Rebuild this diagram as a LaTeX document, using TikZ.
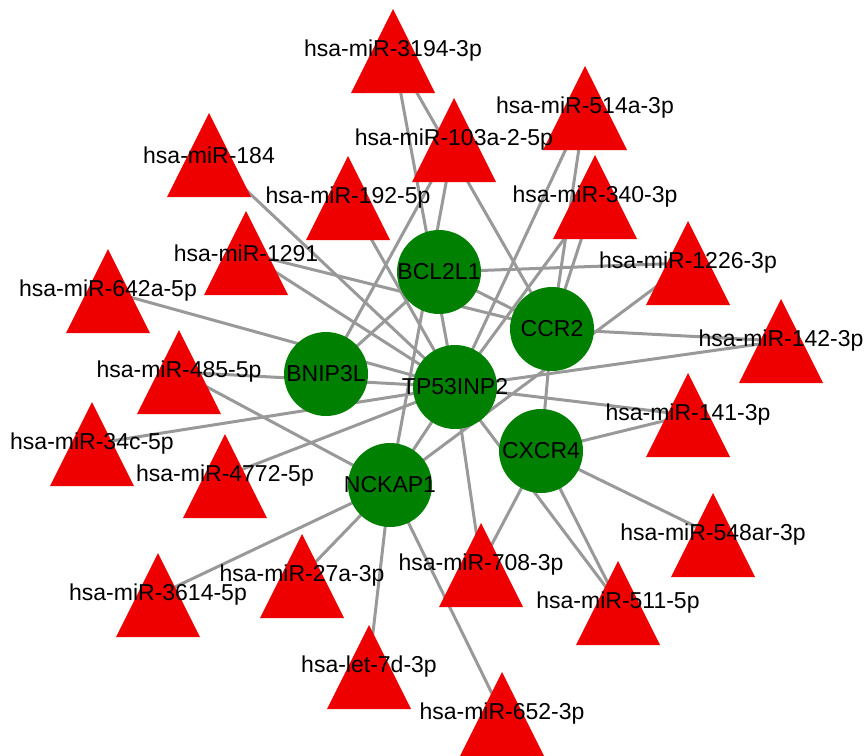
\documentclass[tikz,border=0pt]{standalone}
\usepackage{fontspec}
\setmainfont{Liberation Sans}
\pgfdeclarelayer{edgelayer}
\pgfdeclarelayer{shapelayer}
\pgfsetlayers{edgelayer,shapelayer,main}
\definecolor{trired}{RGB}{238,0,0}
\definecolor{genegreen}{RGB}{0,128,0}
\definecolor{edgegray}{RGB}{153,153,153}
\tikzset{
  lab/.style={font=\fontsize{23}{27}\selectfont, inner sep=0pt, text=black},
  link/.style={draw=edgegray, line width=3pt},
  genedisc/.style={circle, fill=genegreen, minimum size=84pt, inner sep=0pt},
}
\newcommand\mirna[4]{%
  \node[lab] (#1) at (#2,#3) {#4};
  \begin{pgfonlayer}{shapelayer}
    \fill[trired] (#2,#3) ++(0,-42) -- ++(42,84) -- ++(-84,0) -- cycle;
  \end{pgfonlayer}}
\newcommand\gene[4]{%
  \begin{pgfonlayer}{shapelayer}
    \node[genedisc] (#1) at (#2,#3) {};
  \end{pgfonlayer}
  \node[lab] (#1l) at (#1.center) {#4};}
\begin{document}
\begin{tikzpicture}[x=1pt,y=-1pt]
\useasboundingbox (0,0) rectangle (864,755);
% genes
\gene{B}{439}{272}{BCL2L1}
\gene{C}{552}{329}{CCR2}
\gene{N}{326}{374}{BNIP3L}
\gene{T}{455}{387}{TP53INP2}
\gene{X}{541}{451}{CXCR4}
\gene{K}{390}{485}{NCKAP1}
% miRNAs
\mirna{m3194}{393}{51}{hsa-miR-3194-3p}
\mirna{m184}{209}{155}{hsa-miR-184}
\mirna{m192}{348}{198}{hsa-miR-192-5p}
\mirna{m1291}{246}{253}{hsa-miR-1291}
\mirna{m642}{108}{291}{hsa-miR-642a-5p}
\mirna{m485}{179}{372}{hsa-miR-485-5p}
\mirna{m34c}{92}{444}{hsa-miR-34c-5p}
\mirna{m4772}{225}{476}{hsa-miR-4772-5p}
\mirna{m3614}{158}{595}{hsa-miR-3614-5p}
\mirna{m27a}{302}{576}{hsa-miR-27a-3p}
\mirna{let7d}{369}{667}{hsa-let-7d-3p}
\mirna{m652}{502}{714}{hsa-miR-652-3p}
\mirna{m708}{481}{565}{hsa-miR-708-3p}
\mirna{m511}{618}{603}{hsa-miR-511-5p}
\mirna{m548}{713}{535}{hsa-miR-548ar-3p}
\mirna{m141}{688}{415}{hsa-miR-141-3p}
\mirna{m142}{781}{341}{hsa-miR-142-3p}
\mirna{m1226}{688}{263}{hsa-miR-1226-3p}
\mirna{m340}{595}{197}{hsa-miR-340-3p}
\mirna{m514}{585}{108}{hsa-miR-514a-3p}
\mirna{m103}{454}{140}{hsa-miR-103a-2-5p}
% edges
\begin{pgfonlayer}{edgelayer}
\foreach \a/\b in {m3194/T, m3194/C, m184/T, m192/T, m1291/C, m1291/T,
  m642/T, m485/T, m485/K, m34c/T, m4772/T, m3614/K, m27a/K, let7d/K,
  m652/K, m708/T, m708/X, m511/T, m511/X, m548/X, m141/X, m141/T,
  m142/C, m142/T, m1226/B, m1226/K, m340/T, m340/C, m514/T, m514/C,
  m103/K, m103/N, B/C, N/B, C/X, T/K}
  \draw[link] (\a.center) -- (\b.center);
\end{pgfonlayer}
\end{tikzpicture}
\end{document}
